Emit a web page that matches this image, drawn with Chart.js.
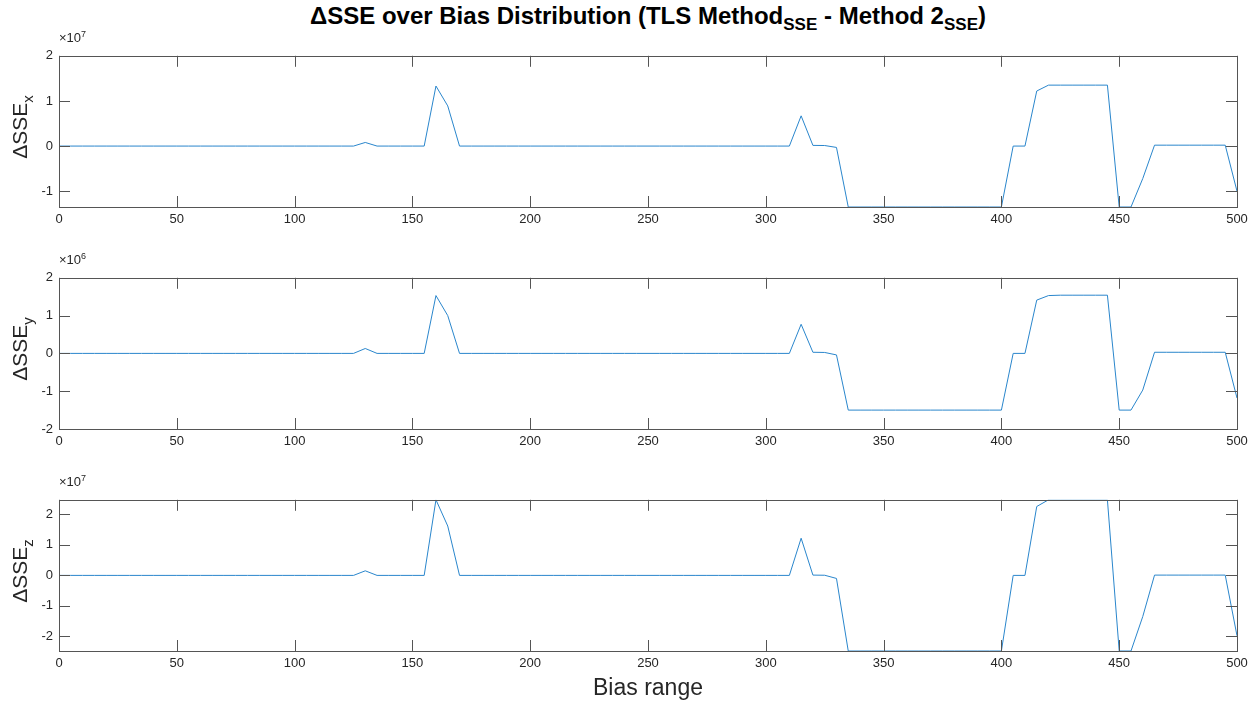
<!DOCTYPE html>
<html>
<head>
<meta charset="utf-8">
<script src="https://cdn.jsdelivr.net/npm/chart.js@4"></script>
<style>
    body { margin: 0; background: #fff; font-family: "Liberation Sans", Arial, sans-serif; color: #262626; }
    #wrap { position: relative; width: 1260px; height: 705px; overflow: hidden; }
    canvas { position: absolute; left: 0; }
    .title { position: absolute; left: 59px; width: 1178px; top: 2px; line-height: 28px; text-align: center; font-weight: bold; font-size: 24px; color: #000; }
    .title sub { font-size: 17px; line-height: 0; }
    .ylab { position: absolute; left: 22px; font-size: 21px; transform: translate(-50%, -50%) rotate(-90deg); white-space: nowrap; }
    .ylab sub { font-size: 15px; }
    .expo { position: absolute; left: 59px; font-size: 13px; }
    .expo sup { font-size: 9px; }
    .xlab { position: absolute; left: 59px; width: 1178px; top: 674px; text-align: center; font-size: 23px; }
</style>
</head>
<body>
<div id="wrap">
    <div class="title">&Delta;SSE over Bias Distribution (TLS Method<sub>SSE</sub> - Method 2<sub>SSE</sub>)</div>
    <canvas id="c1" width="1260" height="200" style="top:42px"></canvas>
    <canvas id="c2" width="1260" height="200" style="top:264px"></canvas>
    <canvas id="c3" width="1260" height="200" style="top:486px"></canvas>
    <div class="expo" style="top:29px">&times;10<sup>7</sup></div>
    <div class="expo" style="top:251px">&times;10<sup>6</sup></div>
    <div class="expo" style="top:473px">&times;10<sup>7</sup></div>
    <div class="ylab" style="top:127px">&Delta;SSE<sub>x</sub></div>
    <div class="ylab" style="top:349px">&Delta;SSE<sub>y</sub></div>
    <div class="ylab" style="top:571px">&Delta;SSE<sub>z</sub></div>
    <div class="xlab">Bias range</div>
</div>
<script>
// bias values (x axis)
const bias = [
    0, 5, 10, 15, 20, 25, 30, 35, 40, 45,
    50, 55, 60, 65, 70, 75, 80, 85, 90, 95,
    100, 105, 110, 115, 120, 125, 130, 135, 140, 145,
    150, 155, 160, 165, 170, 175, 180, 185, 190, 195,
    200, 205, 210, 215, 220, 225, 230, 235, 240, 245,
    250, 255, 260, 265, 270, 275, 280, 285, 290, 295,
    300, 305, 310, 315, 320, 325, 330, 335, 340, 345,
    350, 355, 360, 365, 370, 375, 380, 385, 390, 395,
    400, 405, 410, 415, 420, 425, 430, 435, 440, 445,
    450, 455, 460, 465, 470, 475, 480, 485, 490, 495,
    500
];

// dSSE x, in units of 1e7
const dSSEx = [
    0, 0, 0, 0, 0, 0, 0, 0, 0, 0,
    0, 0, 0, 0, 0, 0, 0, 0, 0, 0,
    0, 0, 0, 0, 0, 0, 0.08, 0, 0, 0,
    0, 0, 1.33, 0.89, 0, 0, 0, 0, 0, 0,
    0, 0, 0, 0, 0, 0, 0, 0, 0, 0,
    0, 0, 0, 0, 0, 0, 0, 0, 0, 0,
    0, 0, 0, 0.67, 0.015, 0.012, -0.03, -1.35, -1.35, -1.35,
    -1.35, -1.35, -1.35, -1.35, -1.35, -1.35, -1.35, -1.35, -1.35, -1.35,
    -1.35, 0, 0, 1.22, 1.35, 1.35, 1.35, 1.35, 1.35, 1.35,
    -1.35, -1.35, -0.72, 0.02, 0.02, 0.02, 0.02, 0.02, 0.02, 0.02,
    -1.0
];

// dSSE y, in units of 1e6
const dSSEy = [
    0, 0, 0, 0, 0, 0, 0, 0, 0, 0,
    0, 0, 0, 0, 0, 0, 0, 0, 0, 0,
    0, 0, 0, 0, 0, 0, 0.13, 0, 0, 0,
    0, 0, 1.53, 1.0, 0, 0, 0, 0, 0, 0,
    0, 0, 0, 0, 0, 0, 0, 0, 0, 0,
    0, 0, 0, 0, 0, 0, 0, 0, 0, 0,
    0, 0, 0, 0.77, 0.03, 0.025, -0.04, -1.5, -1.5, -1.5,
    -1.5, -1.5, -1.5, -1.5, -1.5, -1.5, -1.5, -1.5, -1.5, -1.5,
    -1.5, 0, 0, 1.41, 1.53, 1.54, 1.54, 1.54, 1.54, 1.54,
    -1.5, -1.5, -0.97, 0.03, 0.03, 0.03, 0.03, 0.03, 0.03, 0.03,
    -1.18
];

// dSSE z, in units of 1e7
const dSSEz = [
    0, 0, 0, 0, 0, 0, 0, 0, 0, 0,
    0, 0, 0, 0, 0, 0, 0, 0, 0, 0,
    0, 0, 0, 0, 0, 0, 0.15, 0, 0, 0,
    0, 0, 2.48, 1.62, 0, 0, 0, 0, 0, 0,
    0, 0, 0, 0, 0, 0, 0, 0, 0, 0,
    0, 0, 0, 0, 0, 0, 0, 0, 0, 0,
    0, 0, 0, 1.22, 0.01, 0.005, -0.1, -2.48, -2.48, -2.48,
    -2.48, -2.48, -2.48, -2.48, -2.48, -2.48, -2.48, -2.48, -2.48, -2.48,
    -2.48, 0, 0, 2.26, 2.48, 2.48, 2.48, 2.48, 2.48, 2.48,
    -2.48, -2.48, -1.35, 0.01, 0.01, 0.01, 0.01, 0.01, 0.01, 0.01,
    -1.98
];

const axisColor = '#555555';
const tickLen = 11;

// MATLAB style box with inward ticks on all four sides
const boxPlugin = {
    id: 'box',
    afterDraw(chart) {
        const ctx = chart.ctx;
        const a = chart.chartArea;
        const xs = chart.scales.x;
        const ys = chart.scales.y;
        ctx.save();
        ctx.strokeStyle = axisColor;
        ctx.lineWidth = 1;
        ctx.beginPath();
        xs.ticks.forEach(t => {
            const px = Math.round(xs.getPixelForValue(t.value)) + 0.5;
            ctx.moveTo(px, a.bottom);
            ctx.lineTo(px, a.bottom - tickLen);
            ctx.moveTo(px, a.top);
            ctx.lineTo(px, a.top + tickLen);
        });
        ys.ticks.forEach(t => {
            const py = Math.round(ys.getPixelForValue(t.value)) + 0.5;
            ctx.moveTo(a.left, py);
            ctx.lineTo(a.left + tickLen, py);
            ctx.moveTo(a.right, py);
            ctx.lineTo(a.right - tickLen, py);
        });
        ctx.stroke();
        ctx.strokeRect(Math.round(a.left) + 0.5, Math.round(a.top) + 0.5,
            Math.round(a.right - a.left), Math.round(a.bottom - a.top));
        ctx.restore();
    }
};

function makeChart(id, values, yMin, yMax) {
    const ctx = document.getElementById(id).getContext('2d');
    return new Chart(ctx, {
        type: 'line',
        data: {
            datasets: [{
                data: bias.map((b, i) => ({ x: b, y: values[i] })),
                borderColor: '#2a86cc',
                borderWidth: 1,
                pointRadius: 0,
                tension: 0,
                fill: false
            }]
        },
        options: {
            responsive: false,
            animation: false,
            layout: { padding: { top: 5, right: 23, bottom: 0, left: 0 } },
            plugins: { legend: { display: false }, tooltip: { enabled: false } },
            scales: {
                x: {
                    type: 'linear',
                    min: 0,
                    max: 500,
                    afterFit: s => { s.height = 35; },
                    grid: { display: false, drawTicks: false },
                    border: { display: false },
                    ticks: {
                        stepSize: 50,
                        padding: 5,
                        maxRotation: 0,
                        color: '#262626',
                        font: { family: '"Liberation Sans", Arial, sans-serif', size: 13 }
                    }
                },
                y: {
                    min: yMin,
                    max: yMax,
                    afterFit: s => { s.width = 59; },
                    grid: { display: false, drawTicks: false },
                    border: { display: false },
                    ticks: {
                        stepSize: 1,
                        includeBounds: false,
                        padding: 6,
                        color: '#262626',
                        font: { family: '"Liberation Sans", Arial, sans-serif', size: 13 }
                    }
                }
            }
        },
        plugins: [boxPlugin]
    });
}

makeChart('c1', dSSEx, -1.35, 2);
makeChart('c2', dSSEy, -2, 2);
makeChart('c3', dSSEz, -2.48, 2.48);
</script>
</body>
</html>
